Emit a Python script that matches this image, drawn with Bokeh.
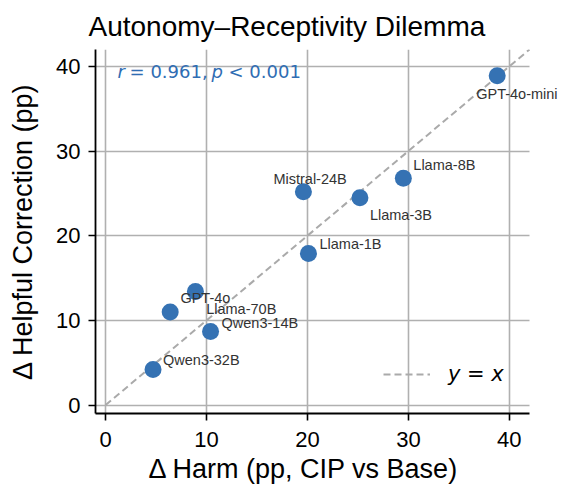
from bokeh.plotting import figure
from bokeh.models import (ColumnDataSource, Label, Legend, LegendItem, FixedTicker,
                          BoxAnnotation, Title)
from bokeh.embed import file_html
from bokeh.resources import INLINE

# ---- data ----
models = ["GPT-4o-mini", "Llama-8B", "Llama-3B", "Mistral-24B", "Llama-1B",
          "GPT-4o", "Llama-70B", "Qwen3-14B", "Qwen3-32B"]
harm = [38.8, 29.5, 25.2, 19.6, 20.1, 8.9, 6.4, 10.4, 4.7]
helpful = [38.9, 26.8, 24.5, 25.2, 17.9, 13.4, 11.0, 8.7, 4.2]
tick_values = [0, 10, 20, 30, 40]
axis_limits = (-1, 42)
diag_ends = [0, 42]
stat_r = "0.961"
stat_p = "0.001"
x_label = "Δ Harm (pp, CIP vs Base)"
y_label = "Δ Helpful Correction (pp)"
title_text = "Autonomy–Receptivity Dilemma"

# ---- label placement (screen px, styling only; positive dy = up) ----
label_dx = [-21, 10, 10, -30, 11, -15, 36, 11, 10]
label_dy = [-18, 13, -17, 13, 10, -6, 3, 8, 9]

FONT = "Liberation Sans"
MATH = "DejaVu Sans"

src = ColumnDataSource(dict(x=harm, y=helpful, name=models))

# the frame is widened to the canvas edge so that labels beyond x=42 are not clipped;
# the area right of x=42 is masked white and the axis line is bounded at 42
x_end = axis_limits[0] + (565 - 95) * (axis_limits[1] - axis_limits[0]) / 434.0

p = figure(width=565, height=488, x_range=(axis_limits[0], x_end), y_range=axis_limits,
           output_backend="svg", toolbar_location=None,
           min_border_left=95, min_border_right=0, min_border_top=47, min_border_bottom=75,
           y_axis_label=y_label)
p.outline_line_color = None
p.background_fill_color = "white"
p.border_fill_color = "white"

p.title.text = title_text
p.title.text_font = FONT
p.title.text_font_size = "28px"
p.title.text_font_style = "normal"
p.title.text_color = "black"
p.title.align = "left"
p.title.offset = -7
p.title.standoff = 16

for ax in (p.xaxis[0], p.yaxis[0]):
    ax.ticker = FixedTicker(ticks=tick_values)
    ax.axis_line_color = "black"
    ax.axis_line_width = 1.8
    ax.major_tick_line_color = "black"
    ax.major_tick_line_width = 1.6
    ax.major_tick_out = 7
    ax.major_tick_in = 0
    ax.minor_tick_line_color = None
    ax.major_label_text_font = FONT
    ax.major_label_text_font_size = "22px"
    ax.major_label_text_color = "black"
    ax.axis_label_text_font = FONT
    ax.axis_label_text_font_size = "27px"
    ax.axis_label_text_font_style = "normal"
    ax.axis_label_text_color = "black"
p.xaxis.bounds = axis_limits

p.xaxis.major_label_standoff = 11
p.yaxis.major_label_standoff = 8
p.yaxis.axis_label_standoff = 15

# x-axis label, centred under the visible axis (x from -1 to 42)
p.add_layout(Title(text=x_label, align="left", offset=53, standoff=4,
                   text_font=FONT, text_font_size="27px", text_font_style="normal",
                   text_color="black"), "below")

for g in (p.xgrid[0], p.ygrid[0]):
    g.ticker = FixedTicker(ticks=tick_values)
    g.grid_line_color = "#b0b0b0"
    g.grid_line_width = 1.6

p.add_layout(BoxAnnotation(left=axis_limits[1], fill_color="white", fill_alpha=1.0,
                           line_alpha=0, level="underlay"))

diag_r = p.line(diag_ends, diag_ends, line_color="#aaaaaa", line_width=2, line_dash="7 4")

p.scatter("x", "y", source=src, size=17, fill_color="#3572b3", line_color=None)

for name, xv, yv, dx, dy in zip(models, harm, helpful, label_dx, label_dy):
    p.add_layout(Label(x=xv, y=yv, x_offset=dx, y_offset=dy, text=name,
                       text_font=FONT, text_font_size="14.5px", text_color="#333333",
                       text_align="left", text_baseline="middle"))

# correlation annotation
ann_color = "#2f6db3"
ann_y = 39.45
for xx, txt, style in [(1.19, "r", "italic"), (2.38, "= " + stat_r + ",", "normal"),
                       (10.5, "p", "italic"), (12.18, "< " + stat_p, "normal")]:
    p.add_layout(Label(x=xx, y=ann_y, text=txt, text_font=MATH, text_font_size="18px",
                       text_font_style=style, text_color=ann_color,
                       text_baseline="alphabetic", text_align="left"))

legend = Legend(items=[LegendItem(label="y = x", renderers=[diag_r])],
                location=(288, 27), margin=0, padding=0, spacing=0,
                glyph_width=47, glyph_height=20, label_standoff=18,
                label_text_font=MATH, label_text_font_style="italic",
                label_text_font_size="21px", label_text_color="black",
                border_line_alpha=0, background_fill_alpha=0)
p.add_layout(legend)

open("out.html", "w").write(file_html(p, INLINE))
